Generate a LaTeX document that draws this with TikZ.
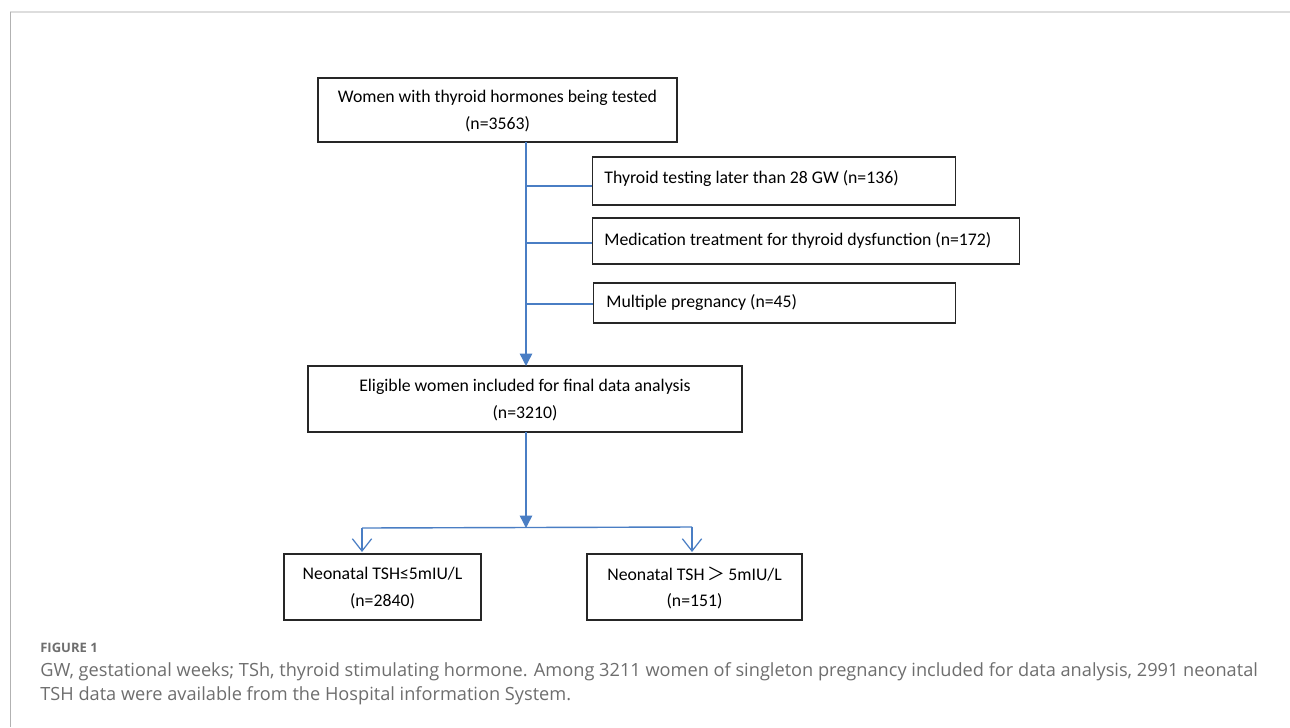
\documentclass[tikz,border=0pt]{standalone}
\usepackage{fontspec}
\setmainfont{Carlito}
\newfontfamily\capfont{Open Sans}
\usetikzlibrary{arrows.meta}
\definecolor{flowblue}{HTML}{4A7EC4}
\definecolor{capgray}{HTML}{6E6E6E}
\definecolor{framegray}{HTML}{DDDDDD}
\tikzset{
  boxfont/.style={font=\fontsize{10.1}{15}\selectfont},
  box/.style={draw=black!85, line width=0.8pt, rectangle, inner sep=0pt, boxfont, text=black},
  boxtext/.style={anchor=west, inner sep=0pt, boxfont},
  conn/.style={draw=flowblue, line width=0.8pt},
  filledtip/.style={-{Triangle[length=7pt,width=7pt]}},
  opentip/.style={-{Straight Barb[length=7pt,width=11pt,line width=0.7pt]}}
}
\begin{document}
\begin{tikzpicture}[x=0.02cm,y=-0.02cm]
\useasboundingbox (0,0) rectangle (1290,727);
\fill[white] (0,0) rectangle (1290,727);
% frame
\draw[framegray, line width=1.2pt] (10,12) -- (1290,12);
\draw[black!30, line width=0.4pt] (10,12) -- (10,727);
% boxes
\node[box, minimum width=359*0.02cm, minimum height=64*0.02cm, align=center, text depth=-1.5pt] (top) at (497.5,110) {Women with thyroid hormones being tested\\(n=3563)};
\node[box, minimum width=363*0.02cm, minimum height=48*0.02cm, anchor=west] (ex1) at (592,181) {};
\node[boxtext] (ex1t) at (604,179) {Thyroid testing later than 28 GW (n=136)};
\node[box, minimum width=427*0.02cm, minimum height=46*0.02cm, anchor=west] (ex2) at (592,241) {};
\node[boxtext] (ex2t) at (604,240) {Medication treatment for thyroid dysfunction (n=172)};
\node[box, minimum width=362*0.02cm, minimum height=40*0.02cm, anchor=west] (ex3) at (593,303) {};
\node[boxtext] (ex3t) at (606,303) {Multiple pregnancy (n=45)};
\node[box, minimum width=434*0.02cm, minimum height=66*0.02cm, align=center, text depth=-1.5pt] (elig) at (525,399) {Eligible women included for final data analysis\\(n=3210)};
\node[box, minimum width=197*0.02cm, minimum height=66*0.02cm, align=center, text depth=-1.5pt] (low) at (382.5,587) {Neonatal TSH≤5mIU/L\\(n=2840)};
\node[box, minimum width=215*0.02cm, minimum height=66*0.02cm, align=center, text depth=-1.5pt] (high) at (694.5,587) {Neonatal TSH\,{\fontspec{Noto Sans CJK SC}＞}\,5mIU/L\\(n=151)};
% connectors
\coordinate (t1) at (526,142);
\coordinate (b1) at (526,366);
\draw[conn, filledtip] (t1) -- (b1);
\draw[conn] (526,186) -- (ex1.west |- 0,186);
\draw[conn] (526,243) -- (ex2.west |- 0,243);
\draw[conn] (526,304) -- (ex3.west |- 0,304);
\coordinate (t2) at (526,432);
\coordinate (j) at (526,528);
\draw[conn, filledtip] (t2) -- (j);
\coordinate (jl) at (362,528);
\coordinate (jr) at (692,527);
\draw[conn] (jl) -- (jr);
\draw[conn, opentip] (jl) -- (362,552);
\draw[conn, opentip] (jr) -- (692,552);
% caption
\node[anchor=west, inner sep=0pt, text=capgray, font=\capfont\fontsize{7.4}{9}\selectfont\bfseries] (figlab) at (40,648) {FIGURE 1};
\node[anchor=west, inner sep=0pt, text=capgray, font=\capfont\fontsize{10.35}{13}\selectfont] (cap1) at (40,672) {GW, gestational weeks; TSh, thyroid stimulating hormone. Among 3211 women of singleton pregnancy included for data analysis, 2991 neonatal};
\node[anchor=west, inner sep=0pt, text=capgray, font=\capfont\fontsize{10.35}{13}\selectfont] (cap2) at (40,696) {TSH data were available from the Hospital information System.};
\end{tikzpicture}
\end{document}
